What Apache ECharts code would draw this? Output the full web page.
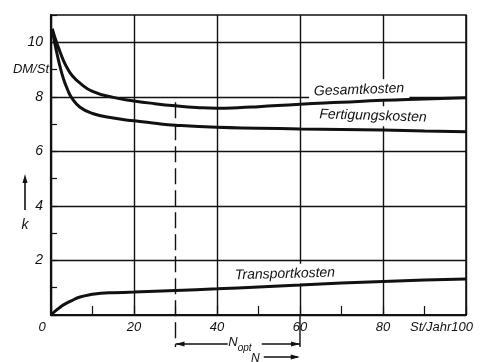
<!DOCTYPE html>
<html><head><meta charset="utf-8">
<script src="https://cdn.jsdelivr.net/npm/echarts@6/dist/echarts.min.js"></script>
<style>html,body{margin:0;padding:0;background:#fff}#c{width:484px;height:362px}</style>
</head><body><div id="c"></div>
<script>
// x: Stückzahl N (St/Jahr), y: Kosten k (DM/St)
const gesamtX = [0.3, 1, 2, 3, 4, 5, 7, 10, 15, 20, 25, 30, 35, 40, 45, 50, 60, 70, 80, 90, 100];
const gesamtY = [10.5, 10.15, 9.72, 9.33, 9.03, 8.8, 8.5, 8.2, 7.98, 7.85, 7.75, 7.67, 7.61, 7.58, 7.6, 7.64, 7.73, 7.8, 7.87, 7.92, 7.97];
const fertX = [0.3, 1, 2, 3, 4, 5, 7, 10, 15, 20, 25, 30, 40, 50, 60, 70, 80, 90, 100];
const fertY = [10.45, 9.9, 9.22, 8.66, 8.26, 7.96, 7.62, 7.39, 7.22, 7.12, 7.03, 6.96, 6.88, 6.85, 6.82, 6.8, 6.78, 6.75, 6.72];
const transX = [0, 1, 2, 3, 5, 7, 10, 12, 15, 20, 30, 40, 50, 60, 70, 80, 90, 100];
const transY = [0, 0.14, 0.26, 0.37, 0.53, 0.66, 0.76, 0.8, 0.82, 0.84, 0.9, 0.96, 1.03, 1.1, 1.17, 1.23, 1.28, 1.32];
const xLabels = {0: '0', 20: '20', 40: '40', 60: '60', 80: '80', 100: 'St/Jahr100'};
const yLabels = {2: '2', 4: '4', 6: '6', 8: '8', 9: 'DM/St', 10: '10'};
const seriesNames = ['Gesamtkosten', 'Fertigungskosten', 'Transportkosten'];
const nOpt = [30, 60];

const FONT = '"Liberation Sans", "DejaVu Sans", sans-serif';
const INK = '#111';
const zip = (xs, ys) => xs.map((x, i) => [x, ys[i]]);

const chart = echarts.init(document.getElementById('c'), null, {renderer: 'canvas'});
const lineSeries = (name, xs, ys) => ({
  name, type: 'line', data: zip(xs, ys), smooth: 0.5,
  showSymbol: false, symbol: 'none', clip: true,
  lineStyle: {color: INK, width: 3}, z: 3
});
chart.setOption({
  animation: false,
  backgroundColor: '#fff',
  grid: {left: 51, right: 18, top: 15, bottom: 47, show: true, borderColor: INK, borderWidth: 1.5, backgroundColor: 'transparent'},
  xAxis: {
    type: 'value', min: 0, max: 100, interval: 10,
    axisLine: {show: true, lineStyle: {color: INK, width: 2}},
    axisTick: {show: true, inside: true, length: 9, lineStyle: {color: INK, width: 1.2}},
    splitLine: {show: true, lineStyle: {color: [INK, 'rgba(0,0,0,0)'], width: 1.4}},
    axisLabel: {
      margin: 6, color: INK, fontFamily: FONT, fontStyle: 'italic', fontSize: 13,
      formatter: v => v === 0 ? '{z|0}' : v === 100 ? '{e|' + xLabels[100] + '}' : (xLabels[v] || ''),
      rich: {
        z: {fontFamily: FONT, fontStyle: 'italic', fontSize: 13, color: INK, padding: [0, 18, 0, 0]},
        e: {fontFamily: FONT, fontStyle: 'italic', fontSize: 13, color: INK, padding: [0, 49, 0, 0]}
      }
    }
  },
  yAxis: {
    type: 'value', min: 0, max: 11, interval: 1,
    axisLine: {show: true, lineStyle: {color: INK, width: 2.2}},
    axisTick: {show: true, inside: true, length: 6, lineStyle: {color: INK, width: 1.2}},
    splitLine: {show: true, lineStyle: {color: [INK, 'rgba(0,0,0,0)'], width: 1.4}},
    axisLabel: {
      margin: 2, color: INK, fontFamily: FONT, fontStyle: 'italic', fontSize: 13,
      formatter: v => v === 9 ? '{d|DM/St}' : (yLabels[v] ? '{n|' + yLabels[v] + '}' : ''),
      rich: {
        n: {fontFamily: FONT, fontStyle: 'italic', fontSize: 14, color: INK, padding: [0, 6, 0, 0]},
        d: {fontFamily: FONT, fontSize: 13, color: INK}
      }
    }
  },
  series: [
    lineSeries(seriesNames[0], gesamtX, gesamtY),
    lineSeries(seriesNames[1], fertX, fertY),
    lineSeries(seriesNames[2], transX, transY)
  ]
});

// annotations positioned through the chart's own coordinate system
const P = (x, y) => chart.convertToPixel({gridIndex: 0}, [x, y]);
const [x30, yTop30] = P(nOpt[0], 7.8);
const [x60] = P(nOpt[1], 0);
const y0 = P(0, 0)[1];
const yDim = y0 + 29;
const yEnd = y0 + 32;
const line = (x1, y1, x2, y2, extra) => ({type: 'line', z: 10, shape: {x1, y1, x2, y2}, style: Object.assign({stroke: INK, lineWidth: 1.3}, extra || {})});
const arrowR = (x, y) => ({type: 'polygon', z: 10, shape: {points: [[x, y], [x - 9, y - 2.5], [x - 9, y + 2.5]]}, style: {fill: INK}});
const arrowL = (x, y) => ({type: 'polygon', z: 10, shape: {points: [[x, y], [x + 9, y - 2.5], [x + 9, y + 2.5]]}, style: {fill: INK}});
const arrowU = (x, y) => ({type: 'polygon', z: 10, shape: {points: [[x, y], [x - 2.5, y + 9], [x + 2.5, y + 9]]}, style: {fill: INK}});
const label = (text, x, y, rot, size) => ({
  type: 'text', z: 1, x, y, rotation: rot,
  style: {text, x: 0, y: 0, align: 'center', verticalAlign: 'middle', fill: INK,
    font: 'italic ' + (size || 14) + 'px ' + FONT, backgroundColor: '#fff', padding: [3, 5]}
});
const xm = (x30 + x60) / 2;
chart.setOption({
  graphic: {elements: [
    line(x30, yTop30, x30, yEnd, {lineDash: [16, 6], lineWidth: 1.4}),
    line(x60, y0, x60, yEnd, {lineWidth: 1.4}),
    line(x30, yDim, xm - 10, yDim), arrowL(x30, yDim),
    line(xm + 24, yDim, x60, yDim), arrowR(x60, yDim),
    {type: 'text', z: 10, style: {text: 'N', x: xm, y: yDim - 2, align: 'right', verticalAlign: 'middle', fill: INK, font: 'italic 13px ' + FONT}},
    {type: 'text', z: 10, style: {text: 'opt', x: xm, y: yDim + 4, align: 'left', verticalAlign: 'middle', fill: INK, font: 'italic 10px ' + FONT}},
    {type: 'text', z: 10, style: {text: 'N', x: xm + 22, y: yDim + 15, align: 'right', verticalAlign: 'middle', fill: INK, font: 'italic 12px ' + FONT}},
    line(xm + 26, yDim + 13, xm + 60, yDim + 13, {lineWidth: 1.6}), arrowR(xm + 62, yDim + 13),
    line(25, 210, 25, 182, {lineWidth: 1.6}), arrowU(25, 174),
    {type: 'text', z: 10, style: {text: 'k', x: 25, y: 225, align: 'center', verticalAlign: 'middle', fill: INK, font: 'italic 14px ' + FONT}},
    label(seriesNames[0], 359, 90, 0.035),
    label(seriesNames[1], 373, 116, -0.03),
    label(seriesNames[2], 285, 274, 0.025)
  ]}
});
</script></body></html>
